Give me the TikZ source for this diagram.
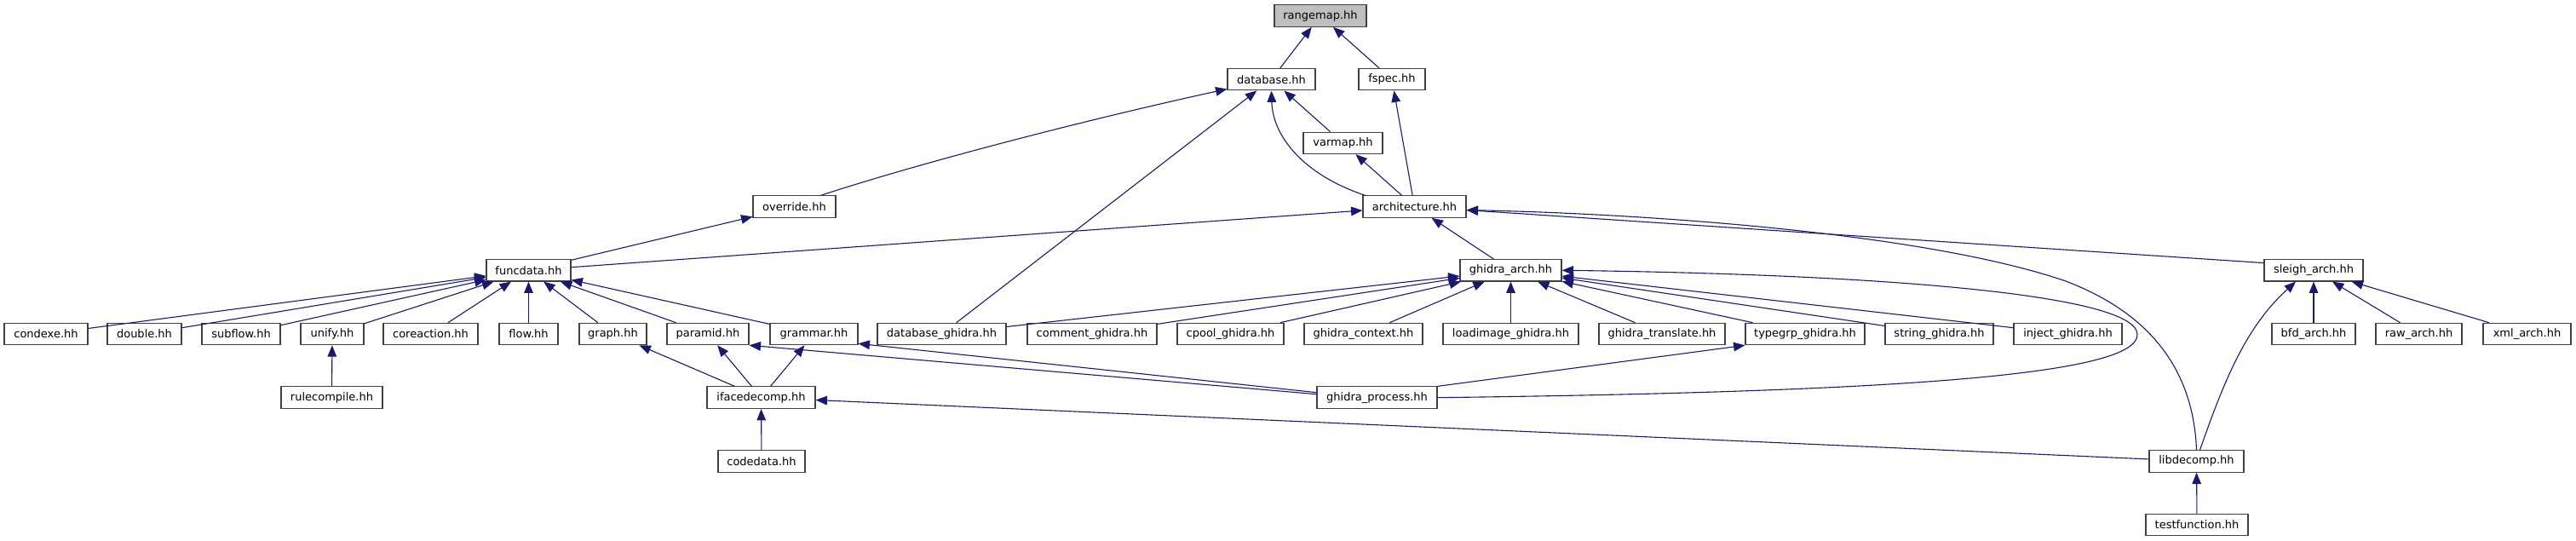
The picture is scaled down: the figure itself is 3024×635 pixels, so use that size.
\documentclass[tikz,border=0pt]{standalone}
\usepackage{fontspec}
\setmainfont{DejaVu Sans}
\usetikzlibrary{arrows.meta}
\definecolor{edgec}{HTML}{191970}
\definecolor{boxc}{HTML}{404040}
\definecolor{rootfill}{HTML}{BFBFBF}
\begin{document}
\begin{tikzpicture}[x=0.5pt,y=-0.5pt,
  box/.style={draw=boxc, line width=0.55pt, fill=white, minimum height=12.75pt, inner sep=0pt,
    font=\fontsize{6.5pt}{7.5pt}\selectfont, text=black},
  edge/.style={draw=edgec, line width=0.55pt, -{Triangle[length=6.7pt,width=5.3pt]}}]
\useasboundingbox (0,0) rectangle (3024,635);
% row 0
\node[box, fill=rootfill, minimum width=54pt] (rangemap) at (1550,18.5) {rangemap.hh};
% row 1
\node[box, minimum width=51.5pt] (database) at (1492.5,93.2) {database.hh};
\node[box, minimum width=39pt] (fspec) at (1634,93.2) {fspec.hh};
% row 2
\node[box, minimum width=46.5pt] (varmap) at (1576.5,167.9) {varmap.hh};
% row 3
\node[box, minimum width=48.5pt] (override) at (932.5,242.6) {override.hh};
\node[box, minimum width=60.5pt] (architecture) at (1660.5,242.6) {architecture.hh};
% row 4
\node[box, minimum width=49.5pt] (funcdata) at (620.5,317.3) {funcdata.hh};
\node[box, minimum width=59.5pt] (garch) at (1773.5,317.3) {ghidra\_arch.hh};
\node[box, minimum width=58pt] (sarch) at (2716,317.3) {sleigh\_arch.hh};
% row 5
\node[box, minimum width=49pt] (condexe) at (54,392) {condexe.hh};
\node[box, minimum width=43.5pt] (double) at (169.5,392) {double.hh};
\node[box, minimum width=46pt] (subflow) at (283,392) {subflow.hh};
\node[box, minimum width=37pt] (unify) at (390,392) {unify.hh};
\node[box, minimum width=55.5pt] (coreaction) at (505.5,392) {coreaction.hh};
\node[box, minimum width=34.5pt] (flow) at (620.5,392) {flow.hh};
\node[box, minimum width=39.5pt] (graph) at (719.5,392) {graph.hh};
\node[box, minimum width=48pt] (paramid) at (831,392) {paramid.hh};
\node[box, minimum width=51.5pt] (grammar) at (955.5,392) {grammar.hh};
\node[box, minimum width=75.5pt] (dbghidra) at (1105.5,392) {database\_ghidra.hh};
\node[box, minimum width=76pt] (commentg) at (1282,392) {comment\_ghidra.hh};
\node[box, minimum width=62.5pt] (cpoolg) at (1444.5,392) {cpool\_ghidra.hh};
\node[box, minimum width=69.5pt] (gcontext) at (1600.5,392) {ghidra\_context.hh};
\node[box, minimum width=79.5pt] (loadimg) at (1773.5,392) {loadimage\_ghidra.hh};
\node[box, minimum width=74pt] (gtranslate) at (1951,392) {ghidra\_translate.hh};
\node[box, minimum width=70pt] (typegrp) at (2119,392) {typegrp\_ghidra.hh};
\node[box, minimum width=63.5pt] (stringg) at (2276.5,392) {string\_ghidra.hh};
\node[box, minimum width=63.5pt] (injectg) at (2427.5,392) {inject\_ghidra.hh};
\node[box, minimum width=49pt] (bfd) at (2716,392) {bfd\_arch.hh};
\node[box, minimum width=50.5pt] (raw) at (2839.5,392) {raw\_arch.hh};
\node[box, minimum width=51.5pt] (xml) at (2966.5,392) {xml\_arch.hh};
% row 6
\node[box, minimum width=59.5pt] (rulecompile) at (389.5,466.7) {rulecompile.hh};
\node[box, minimum width=63.5pt] (ifacedecomp) at (893.5,466.7) {ifacedecomp.hh};
\node[box, minimum width=70.5pt] (gproc) at (1616.5,466.7) {ghidra\_process.hh};
% row 7
\node[box, minimum width=51pt] (codedata) at (894,541.4) {codedata.hh};
\node[box, minimum width=55.5pt] (libdecomp) at (2578.5,541.4) {libdecomp.hh};
% row 8
\node[box, minimum width=60pt] (testfunction) at (2579,616.1) {testfunction.hh};

% edges
\draw[edge] (database) -- (rangemap);
\draw[edge] (fspec) -- (rangemap);
\draw[edge] (varmap) -- (database);
\draw[edge] ([xshift=1.5pt]architecture.north west) .. controls (1530,205) and (1494,160) .. (database.south);
\draw[edge] (architecture) -- (varmap);
\draw[edge] (architecture) -- (fspec);
\draw[edge] ([xshift=-9pt]override.north east) .. controls (1100,185) and (1300,135) .. ([yshift=1pt]database.south west);
\draw[edge] (dbghidra) -- (database);
\draw[edge] (funcdata) -- (override);
\draw[edge] (funcdata) -- (architecture);
\draw[edge] (garch) -- (architecture);
\draw[edge] ([yshift=-2.3pt]sarch.north west) -- ([yshift=-2pt]architecture.east);
\draw[edge] (libdecomp.north) .. controls (2575,440) and (2530,370) .. (2425,330)
  .. controls (2250,270) and (1900,250) .. ([yshift=-2pt]architecture.east);
\draw[edge] ([xshift=2pt]libdecomp.north) .. controls (2610,450) and (2635,385) .. ([xshift=-10.5pt]sarch.south);
\foreach \c in {condexe,double,subflow,unify,coreaction,flow,graph,paramid,grammar}
  \draw[edge] (\c) -- (funcdata);
\draw[edge] (rulecompile) -- (unify);
\draw[edge] (ifacedecomp) -- (graph);
\draw[edge] (ifacedecomp) -- (paramid);
\draw[edge] (ifacedecomp) -- (grammar);
\draw[edge] (codedata) -- (ifacedecomp);
\draw[edge] (libdecomp) -- (ifacedecomp);
\draw[edge] (testfunction) -- (libdecomp);
\draw[edge] ([yshift=2pt]gproc.west) -- (paramid.south east);
\draw[edge] ([yshift=3pt]gproc.west) -- ([yshift=1pt]grammar.south east);
\foreach \c in {dbghidra,commentg,cpoolg,gcontext,loadimg,gtranslate,typegrp,stringg,injectg}
  \draw[edge] (\c) -- (garch);
\draw[edge] (gproc.north east) -- (typegrp.south west);
\draw[edge] (gproc.east) .. controls (2230,460) and (2512,440) .. (2509,392)
  .. controls (2506,345) and (2200,322) .. (garch.east);
\foreach \c in {bfd,raw,xml}
  \draw[edge] (\c) -- (sarch);
\end{tikzpicture}
\end{document}
